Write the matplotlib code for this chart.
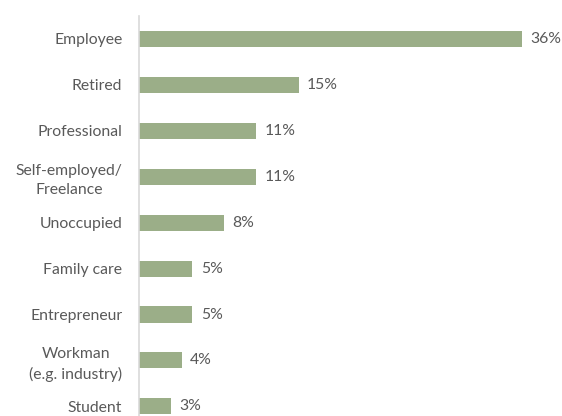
import matplotlib.pyplot as plt

categories = ['Employee', 'Retired', 'Professional', 'Self-employed/\nFreelance',
              'Unoccupied', 'Family care', 'Entrepreneur',
              'Workman\n(e.g. industry)', 'Student']
values = [36, 15, 11, 11, 8, 5, 5, 4, 3]

bar_color = '#9bae88'
text_color = '#595959'

fig = plt.figure(figsize=(5.62, 4.16), dpi=100)
ax = fig.add_axes([139 / 562, 0, 423 / 562, 400 / 416])

pos = list(range(len(categories)))
ax.barh(pos, values, height=0.35, color=bar_color)
for p, v in zip(pos, values):
    ax.text(v + 0.8, p, f'{v}%', va='center', ha='left',
            fontsize=11.3, color=text_color, family='Lato')

ax.set_xlim(0, 39.76)
ax.set_ylim(8.21, -0.5)
ax.set_yticks(pos)
ax.set_yticklabels(categories, fontsize=11.3, color=text_color,
                   family='Lato', multialignment='center',
                   linespacing=1.45)
ax.tick_params(axis='y', length=0, pad=12)
ax.set_xticks([])
for side in ['top', 'right', 'bottom']:
    ax.spines[side].set_visible(False)
ax.spines['left'].set_color('#d9d9d9')
ax.spines['left'].set_linewidth(1.2)

fig.savefig('out.png', dpi=100)
